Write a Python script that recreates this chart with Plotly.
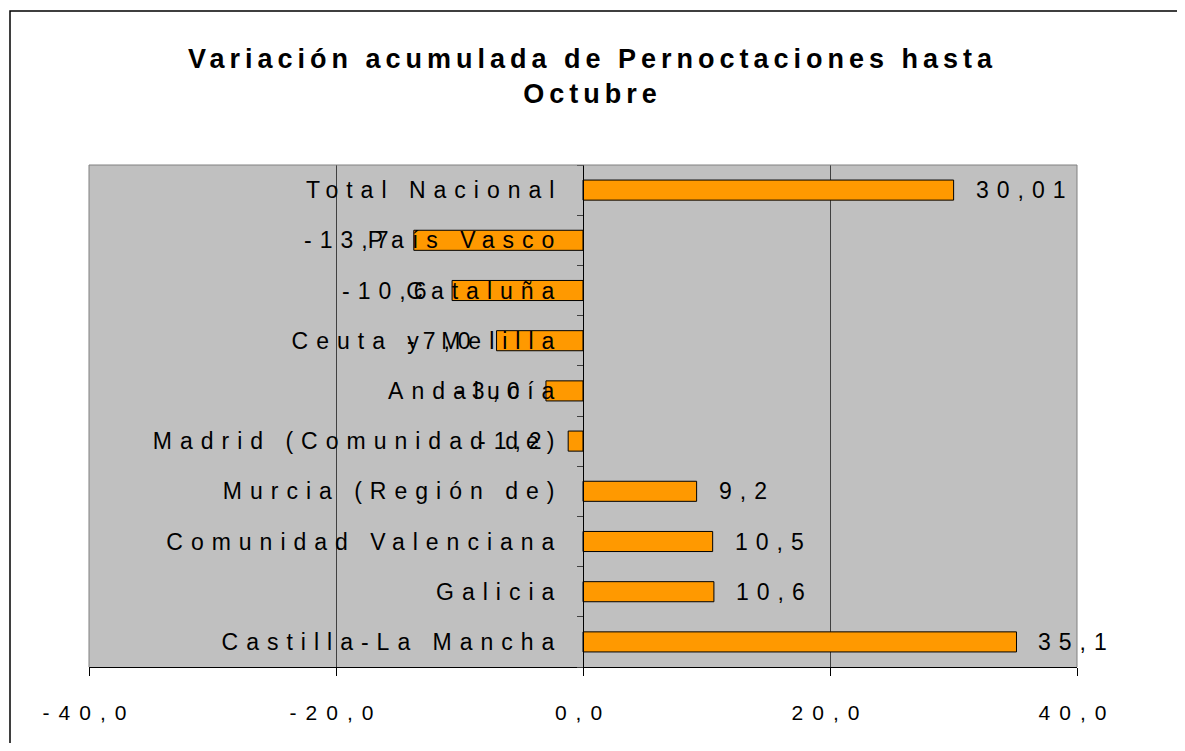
import plotly.graph_objects as go

# ---- data ----
categories = [
    "Total Nacional",
    "País Vasco",
    "Cataluña",
    "Ceuta y Melilla",
    "Andalucía",
    "Madrid (Comunidad de)",
    "Murcia (Región de)",
    "Comunidad Valenciana",
    "Galicia",
    "Castilla-La Mancha",
]
values = [30.01, -13.7, -10.6, -7.0, -3.0, -1.2, 9.2, 10.5, 10.6, 35.1]
x_tick_values = [-40, -20, 0, 20, 40]
x_tick_labels = ["-40,0", "-20,0", "0,0", "20,0", "40,0"]
title_lines = ["Variación acumulada de Pernoctaciones hasta", "Octubre"]

# ---- layout geometry (page has an 8px body margin) ----
W, H = 1177, 735
ML, MR, MT, MB = 81, 108, 157, 76
PW, PH = W - ML - MR, H - MT - MB

FONT = "Liberation Sans, Arial, sans-serif"


def spaced(text, px):
    return f'<span style="letter-spacing:{px}px">{text}</span>'


def fmt(v):
    return str(v).replace(".", ",")


fig = go.Figure(
    go.Bar(
        y=categories,
        x=values,
        orientation="h",
        width=0.4,
        marker=dict(color="#FF9900", line=dict(color="#000000", width=1)),
        hoverinfo="skip",
    )
)

# value labels
annotations = []
for c, v in zip(categories, values):
    annotations.append(
        dict(
            x=v,
            y=c,
            xref="x",
            yref="y",
            text=spaced(fmt(v), 8),
            showarrow=False,
            xanchor="left" if v >= 0 else "right",
            xshift=20 if v >= 0 else -16,
            font=dict(family=FONT, size=23, color="#000000"),
        )
    )

# shapes: outer frame and plot border
shapes = [
    dict(type="rect", xref="paper", yref="paper",
         x0=(2 - ML) / PW, x1=(W + 50 - ML) / PW,
         y0=-(MB + 50) / PH, y1=(H - MB - 3) / PH,
         line=dict(color="#000000", width=1.5), layer="below"),
    dict(type="line", xref="paper", yref="paper", x0=0, x1=1, y0=1, y1=1,
         line=dict(color="#808080", width=1)),
    dict(type="line", xref="paper", yref="paper", x0=0, x1=0, y0=0, y1=1,
         line=dict(color="#808080", width=1)),
    dict(type="line", xref="paper", yref="paper", x0=1, x1=1, y0=0, y1=1,
         line=dict(color="#808080", width=1)),
]

fig.update_layout(
    width=W,
    height=H,
    margin=dict(l=ML, r=MR, t=MT, b=MB, autoexpand=False),
    paper_bgcolor="#FFFFFF",
    plot_bgcolor="#C0C0C0",
    showlegend=False,
    title=dict(
        text=spaced(title_lines[0], 5) + "<br>" + spaced(title_lines[1], 5),
        x=(1185 / 2 - 8) / W,
        xref="container",
        xanchor="center",
        y=1 - 60 / H,
        yanchor="top",
        yref="container",
        font=dict(family=FONT, size=27, color="#000000", weight="bold"),
    ),
    xaxis=dict(
        range=[-40, 40],
        tickvals=x_tick_values,
        ticktext=[spaced(t, 9) for t in x_tick_labels],
        showgrid=True,
        gridcolor="#404040",
        gridwidth=1,
        zeroline=False,
        showline=True,
        linecolor="#000000",
        linewidth=1,
        ticks="outside",
        ticklen=8,
        tickcolor="#000000",
        ticklabelstandoff=19,
        tickfont=dict(family=FONT, size=21, color="#000000"),
        automargin=False,
        fixedrange=True,
    ),
    yaxis=dict(
        type="category",
        categoryorder="array",
        categoryarray=categories,
        range=[len(categories) - 0.5, -0.5],
        anchor="free",
        position=0.5,
        tickvals=categories,
        ticktext=[spaced(c, 8) for c in categories],
        showgrid=False,
        zeroline=False,
        showline=True,
        linecolor="#000000",
        linewidth=1,
        ticks="outside",
        tickson="boundaries",
        ticklen=6,
        tickcolor="#404040",
        ticklabelstandoff=16,
        tickfont=dict(family=FONT, size=23, color="#000000"),
        automargin=False,
        fixedrange=True,
    ),
    annotations=annotations,
    shapes=shapes,
)

fig.write_html("out.html")
